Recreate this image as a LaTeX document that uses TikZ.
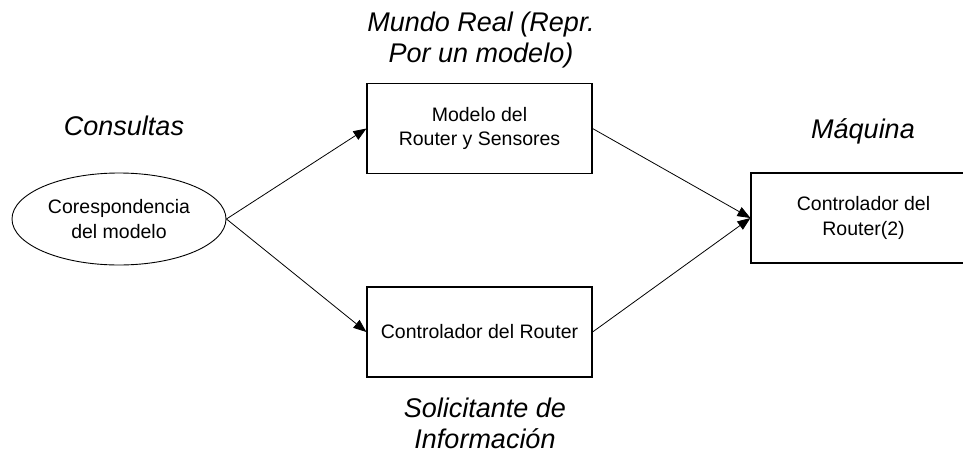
\documentclass[tikz,border=0pt]{standalone}
\usepackage{fontspec}
\setmainfont{Liberation Sans}
\usetikzlibrary{shapes.geometric,arrows.meta}
\begin{document}
\begin{tikzpicture}[x=1pt,y=-1pt,
  boxtext/.style={font=\fontsize{19.5}{24.5}\selectfont, align=center},
  sbox/.style={draw, line width=1.1pt, minimum width=225pt, minimum height=90pt, inner sep=0pt, boxtext},
  eshape/.style={draw, ellipse, line width=0.9pt, minimum width=214pt, minimum height=92pt, inner sep=0pt, boxtext},
  lbl/.style={font=\fontsize{27}{31}\selectfont\itshape, align=center, inner sep=1pt},
  conn/.style={line width=0.8pt, -{Triangle[length=13pt,width=10pt]}}]
\useasboundingbox (0,0) rectangle (963,455);
\begin{scope}
\clip (0,0) rectangle (963,455);
\node[eshape] (e) at (119,219) {Corespondencia\\del modelo};
\node[sbox] (m) at (479.5,128.5) {Modelo del\\Router y Sensores};
\node[sbox] (c) at (479.5,332) {Controlador del Router};
\node[sbox] (r) at (863.5,218) {Controlador del\\Router(2)};
\end{scope}
\node[lbl] (lc) at (124,126) {Consultas};
\node[lbl] (lm) at (863,131) {Máquina};
\node[lbl] (lw) at (481,40) {Mundo Real (Repr.\\Por un modelo)};
\node[lbl] (ls) at (485,423) {Solicitante de\\Información};
\draw[conn] (e.east) -- (m.west);
\draw[conn] (e.east) -- (c.west);
\draw[conn] (m.east) -- (r.west);
\draw[conn] (c.east) -- (r.west);
\end{tikzpicture}
\end{document}
